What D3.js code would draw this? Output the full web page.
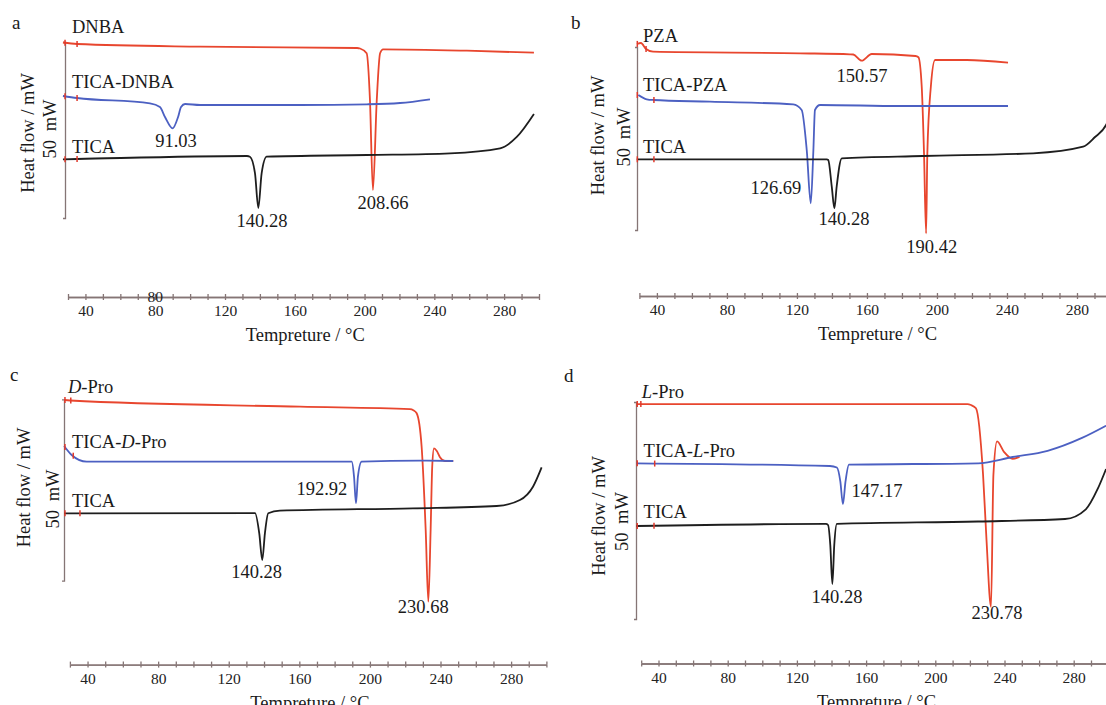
<!DOCTYPE html>
<html lang="en">
<head>
<meta charset="utf-8">
<title>DSC curves of TICA cocrystals</title>
<script src="https://d3js.org/d3.v7.min.js"></script>
<style>
    body { margin: 0; background: #fff; }
    svg { display: block; font-family: "Liberation Serif", "Times New Roman", serif; }
    .axis path, .axis line { stroke: #857575; stroke-width: 1.3; }
    .axis text { font-size: 15.5px; fill: #222; font-family: "Liberation Serif", "Times New Roman", serif; }
    .curve { fill: none; stroke-width: 1.8; }
    .mark { stroke: #e0392b; stroke-width: 1.5; }
    .lbl { font-size: 18.5px; fill: #1a1a1a; }
    .letter { font-size: 19px; fill: #1a1a1a; }
</style>
</head>
<body>
<svg id="chart" width="1106" height="705"></svg>
<script>
    // temperature axis (°C)
    var tempTicks = d3.range(30, 301, 10)
    var tempLabels = [40, 80, 120, 160, 200, 240, 280]

    // heat flow curves, [temperature °C, heat flow (arb. mW, offset per panel)]
    // panel a
    var dnba = [[27.1,175.5],[35.2,174],[105.7,171.3],[195.7,170],[197.4,169.5],[201.2,164.7],[203.1,118],[204.8,28],[207.0,118],[208.9,164.7],[210.6,168.7],[258.6,167.3],[297.1,165.3]]
    var ticaDnba = [[27.1,122],[35.2,120],[77,114.7],[82.7,111],[85.6,101],[90,89.7],[93.1,101],[94.8,111],[97.1,114],[105.7,113],[163,113],[201.4,113.7],[220.3,115],[237.5,118.7]]
    var ticaA = [[27.1,58.7],[35.2,59],[132.6,62],[134.3,61.3],[137.2,44.7],[139.1,10],[141.0,44.7],[143.9,61.3],[201.4,63],[249,64.7],[277.7,69.7],[287.4,81.3],[297.1,104]]
    // panel b
    var pza = [[28.6,186],[30.9,187],[33.8,181],[37.8,178.3],[121.8,176.7],[150.3,175.7],[152.2,175.5],[157,169.3],[162.7,176],[187.7,174],[189.4,172.7],[191.3,143.3],[192.6,76.7],[193.8,-3.3],[194.5,76.7],[196.5,143.3],[198.9,170],[217,170],[240.6,167.3]]
    var ticaPza = [[29.4,135],[34.2,130.7],[37.9,130],[70.3,128.3],[117.9,125.7],[122.7,120],[125.6,80],[127.9,26.7],[129.4,80],[130.3,120],[133.2,125],[178.9,124],[240.6,124]]
    var ticaB = [[28.5,70.7],[37.8,70.7],[137,70.7],[137.9,70],[139.9,43.3],[141.4,21.7],[142.7,43.3],[145.6,71.7],[192,74],[254.9,76.7],[283.5,83.3],[290.3,93],[296.6,105],[299,115]]
    // panel c
    var dPro = [[26.7,180.7],[30.1,180.2],[160.4,174],[222.7,171.5],[224.6,170.5],[226.5,167.4],[229.3,134],[231.6,50.7],[233.1,-21],[234.4,50.7],[235.3,114],[236.3,132.4],[237.9,129.7],[239.7,123.4],[242.5,119.7],[247.2,119.7]]
    var ticaDPro = [[26.7,134.7],[31,125.7],[39.5,119],[160.4,119],[189.7,119],[191,104],[192.1,77.4],[193.2,104],[195.3,119],[228.4,120],[247.2,119.7]]
    var ticaC = [[26.7,67.4],[134.9,67.6],[137.3,47.4],[139,20.7],[140.5,47.4],[142.4,67.4],[149,70],[224.4,72.4],[271.8,74.7],[285,80.7],[292.4,94],[297.3,113.4]]
    // panel d
    var lPro = [[27.3,214.9],[218.6,214.9],[220.6,214],[223.5,210.7],[227.6,144.5],[229.6,79],[232.2,12.2],[233.6,144.5],[235.7,177.6],[239.7,167.2],[244.7,160.2],[248.7,162]]
    var ticaLPro = [[27.3,155.7],[139.1,153],[143.1,151.5],[145.1,137.6],[146.6,115],[148.1,137.6],[150.1,154.3],[224.7,155.7],[244.7,162],[264.9,168.2],[284.8,181.1],[298.7,193.3]]
    var ticaD = [[27.3,93],[136.8,95.1],[138,94],[139.3,74],[140.5,35],[141.6,74],[143.1,95.1],[224.7,97.5],[275,100],[287,109.7],[294,130.6],[298.7,150]]

    // start markers on each curve (°C), in drawing order red, blue, black
    var marksA = [[28.3,35.2],[28.3,35.2],[28.3,35.2]]
    var marksB = [[28.8,33.8],[28.8,38.3],[28.8,38.3]]
    var marksC = [[27.2,30.5],[27.2,31.9],[27.2,35.7]]
    var marksD = [[27.7,29.8],[27.7,37.8],[27.7,37.4]]

    // curve names: parts with odd index in italics, [parts, °C, heat flow]
    var namesA = [[["DNBA"],32.3,185],[["TICA-DNBA"],32.3,130],[["TICA"],32.3,65]]
    var namesB = [[["PZA"],32.1,188.3],[["TICA-PZA"],32.1,139.3],[["TICA"],32.1,76.7]]
    var namesC = [[["","D","-Pro"],28.9,187.4],[["TICA-","D","-Pro"],31.2,132.4],[["TICA"],31.2,73.7]]
    var namesD = [[["","L","-Pro"],30.3,221.1],[["TICA-","L","-Pro"],31.4,162],[["TICA"],31.4,101]]

    // peak temperatures, [text, °C, heat flow] of the label
    var peaksA = [["208.66",210.6,9],["91.03",91.9,71],["140.28",141.2,-9]]
    var peaksB = [["150.57",157.2,148.3],["190.42",197,-23.3],["126.69",108,35.7],["140.28",146.9,5]]
    var peaksC = [["192.92",172.8,85.7],["230.68",230.2,-32.6],["140.28",135.8,2.4]]
    var peaksD = [["147.17",166.3,122],["140.28",143.2,16.4],["230.78",235.7,0]]

    var red = "#e8462e", blue = "#4c60c2", black = "#1e1e1e"

    var panels = [
        {letter: "a", lx: 12, ly: 29, axisX: 65, top: 42, bottom: 218, x0: 68, x1: 539, axisY: 297,
         hf: [27.5, 133], mw: [50, 129], curves: [dnba, ticaDnba, ticaA], marks: marksA,
         names: namesA, peaks: peaksA, extra80: true},
        {letter: "b", lx: 571, ly: 29, axisX: 637, top: 47, bottom: 230, x0: 639.4, x1: 1112, axisY: 296,
         hf: [597.5, 135.5], mw: [624, 137], curves: [pza, ticaPza, ticaB], marks: marksB,
         names: namesB, peaks: peaksB},
        {letter: "c", lx: 10, ly: 381, axisX: 64, top: 399.3, bottom: 580.7, x0: 69.9, x1: 546.4, axisY: 664.6,
         hf: [24, 487.5], mw: [52.5, 499], curves: [dPro, ticaDPro, ticaC], marks: marksC,
         names: namesC, peaks: peaksC},
        {letter: "d", lx: 564, ly: 382, axisX: 636, top: 402, bottom: 619, x0: 641.2, x1: 1108.3, axisY: 663.5,
         hf: [599, 516], mw: [622, 521.6], curves: [lPro, ticaLPro, ticaD], marks: marksD,
         names: namesD, peaks: peaksD}
    ]
    var colors = [red, blue, black]

    var svg = d3.select("#chart")

    var valueAt = function(pts, t) {
        var i = d3.bisector(function(d) { return d[0] }).left(pts, t)
        if (i <= 0) return pts[0][1]
        if (i >= pts.length) return pts[pts.length - 1][1]
        var a = pts[i - 1], b = pts[i]
        return a[1] + (b[1] - a[1]) * (t - a[0]) / (b[0] - a[0])
    }

    panels.forEach(function(p) {
        var x = d3.scaleLinear().domain([30, 300]).range([p.x0, p.x1])
        var y = d3.scaleLinear().domain([0, p.bottom - p.top]).range([p.bottom, p.top])
        var g = svg.append("g")

        g.append("text")
            .attr("class", "letter")
            .attr("x", p.lx)
            .attr("y", p.ly)
            .text(p.letter)

        // vertical axis, no ticks
        g.append("g")
            .attr("class", "axis")
            .attr("transform", "translate(" + p.axisX + ",0)")
            .call(d3.axisLeft(y).tickValues([]).tickSizeOuter(2))

        g.append("text")
            .attr("class", "lbl")
            .attr("text-anchor", "middle")
            .attr("dy", "0.35em")
            .attr("transform", "translate(" + p.hf[0] + "," + p.hf[1] + ") rotate(-90)")
            .text("Heat flow / mW")
        g.append("text")
            .attr("class", "lbl")
            .attr("text-anchor", "middle")
            .attr("dy", "0.35em")
            .style("word-spacing", "4px")
            .attr("transform", "translate(" + p.mw[0] + "," + p.mw[1] + ") rotate(-90)")
            .text("50 mW")

        // temperature axis, ticks on both sides
        g.append("g")
            .attr("class", "axis")
            .attr("transform", "translate(0," + p.axisY + ")")
            .call(d3.axisBottom(x).tickValues(tempTicks).tickSize(3).tickSizeOuter(0).tickPadding(5)
                .tickFormat(function(d) { return tempLabels.indexOf(d) >= 0 ? d : "" }))
        g.append("g")
            .attr("class", "axis")
            .attr("transform", "translate(0," + p.axisY + ")")
            .call(d3.axisTop(x).tickValues(tempTicks).tickSize(3).tickSizeOuter(0).tickFormat(""))
        if (p.extra80) {
            // the source figure has a stray second "80" on this axis
            g.append("text")
                .style("font-size", "15.5px")
                .attr("fill", "#222")
                .attr("text-anchor", "middle")
                .attr("x", x(80))
                .attr("y", p.axisY + 5)
                .text("80")
        }
        g.append("text")
            .attr("class", "lbl")
            .attr("text-anchor", "middle")
            .attr("x", x(166))
            .attr("y", p.axisY + 44)
            .text("Tempreture / °C")

        var line = d3.line()
            .x(function(d) { return x(d[0]) })
            .y(function(d) { return y(d[1]) })
            .curve(d3.curveMonotoneX)

        g.selectAll(".curve")
            .data(p.curves)
            .enter()
            .append("path")
                .attr("class", "curve")
                .attr("stroke", function(d, i) { return colors[i] })
                .attr("d", line)

        p.curves.forEach(function(c, i) {
            g.selectAll(".mark" + i)
                .data(p.marks[i])
                .enter()
                .append("line")
                    .attr("class", "mark mark" + i)
                    .attr("x1", function(t) { return x(t) })
                    .attr("x2", function(t) { return x(t) })
                    .attr("y1", function(t) { return y(valueAt(c, t)) - 3 })
                    .attr("y2", function(t) { return y(valueAt(c, t)) + 3 })
        })

        var names = g.selectAll(".name")
            .data(p.names)
            .enter()
            .append("text")
                .attr("class", "lbl name")
                .attr("x", function(d) { return x(d[1]) })
                .attr("y", function(d) { return y(d[2]) })
        names.selectAll("tspan")
            .data(function(d) { return d[0] })
            .enter()
            .append("tspan")
                .style("font-style", function(s, i) { return i % 2 ? "italic" : "normal" })
                .text(function(s) { return s })

        g.selectAll(".peak")
            .data(p.peaks)
            .enter()
            .append("text")
                .attr("class", "lbl peak")
                .attr("text-anchor", "middle")
                .attr("x", function(d) { return x(d[1]) })
                .attr("y", function(d) { return y(d[2]) })
                .text(function(d) { return d[0] })
    })
</script>
</body>
</html>
